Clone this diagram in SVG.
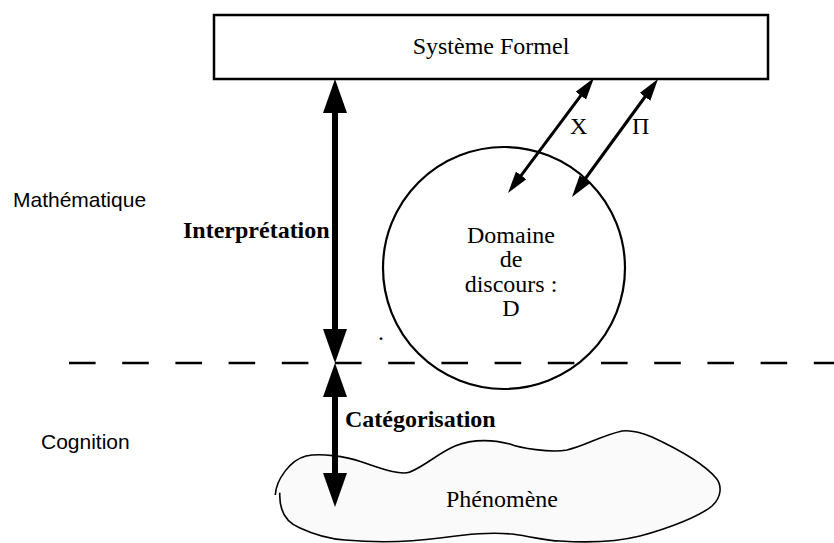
<svg xmlns="http://www.w3.org/2000/svg" width="834" height="543" viewBox="0 0 834 543">
<style>
.serif{font-family:"Liberation Serif","Times New Roman",serif;font-size:24px;fill:#000}
.bold{font-weight:bold}
.sans{font-family:"Liberation Sans",Arial,sans-serif;font-size:21px;fill:#000}
.thick{stroke:#000;stroke-width:6;fill:none}
.thin{stroke:#000;stroke-width:3;fill:none}
</style>
<defs>
<marker id="big" markerUnits="userSpaceOnUse" markerWidth="36" markerHeight="26" refX="19" refY="12" orient="auto-start-reverse" viewBox="0 0 36 26">
<path d="M0,0 L34,12 L0,24 z" fill="#000"/>
</marker>
<marker id="small" markerUnits="userSpaceOnUse" markerWidth="24" markerHeight="14" refX="14" refY="6.5" orient="auto-start-reverse" viewBox="0 0 24 14">
<path d="M0,0 L22,6.5 L0,13 z" fill="#000"/>
</marker>
</defs>
<rect width="834" height="543" fill="#fff"/>
<g id="systeme">
<rect x="214" y="15" width="554" height="64" fill="#fff" stroke="#000" stroke-width="2.5"/>
<text class="serif" x="491" y="54" text-anchor="middle">Système Formel</text>
</g>
<g id="domaine">
<circle cx="504" cy="268" r="121" fill="none" stroke="#000" stroke-width="2.2"/>
<text class="serif" x="511" y="243" text-anchor="middle">Domaine</text>
<text class="serif" x="511" y="267" text-anchor="middle">de</text>
<text class="serif" x="511" y="292" text-anchor="middle">discours :</text>
<text class="serif" x="511" y="316" text-anchor="middle">D</text>
</g>
<g id="phenomene">
<path d="M279.8,492.7 C279,510 285,522 300,528 C315,535 330,539 345,540 C380,543 410,542 440,538 C470,534 490,532 512,534 C535,537 545,541 560,541 C590,543 620,541 640,536 C670,528 700,516 712,506 C722,497 722,485 716,478 C705,465 680,450 652,437 C640,432 630,430 622,431 C600,436 585,446 567,450 C550,453 520,448 510,444 C490,439 470,440 455,446 C440,452 425,466 410,472 C400,476 380,468 362,462 C345,456 320,453 306,456 C290,460 276,480 275.3,495" fill="#fafafa" stroke="#000" stroke-width="1.6"/>
<text class="serif" x="502" y="507" text-anchor="middle">Phénomène</text>
</g>
<g id="labels">
<text class="sans" x="13" y="207">Mathématique</text>
<text class="sans" x="41" y="449">Cognition</text>
<text class="serif bold" x="183" y="238">Interprétation</text>
<text class="serif bold" x="345" y="427">Catégorisation</text>
<text class="serif" x="570" y="134">X</text>
<text class="serif" x="632" y="134">Π</text>
<text class="serif" x="378" y="340">.</text>
</g>
<g id="connectors">
<line x1="69" y1="363" x2="834" y2="363" stroke="#000" stroke-width="2.7" stroke-dasharray="26.6 26.6"/>
<line class="thick" x1="335" y1="94" x2="335" y2="348" marker-start="url(#big)" marker-end="url(#big)"/>
<line class="thick" x1="335" y1="378" x2="335" y2="492" marker-start="url(#big)" marker-end="url(#big)"/>
<line class="thin" x1="589.2" y1="84.4" x2="512.8" y2="186.6" marker-start="url(#small)" marker-end="url(#small)"/>
<line class="thin" x1="653.3" y1="85.5" x2="576.7" y2="190.5" marker-start="url(#small)" marker-end="url(#small)"/>
</g>
</svg>
